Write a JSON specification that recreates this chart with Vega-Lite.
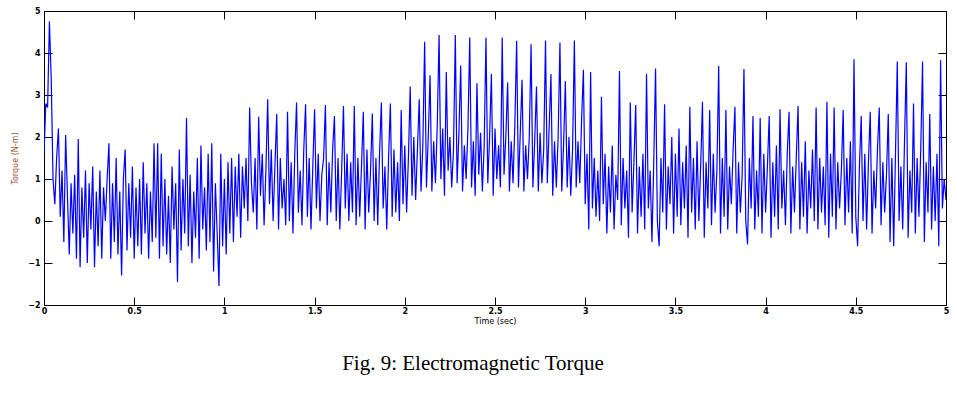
{
  "$schema": "https://vega.github.io/schema/vega-lite/v6.json",
  "width": 902,
  "height": 294,
  "autosize": {"type": "none"},
  "padding": {"left": 44, "top": 11, "right": 11, "bottom": 89},
  "background": "white",
  "config": {
    "view": {"stroke": "black", "strokeWidth": 1},
    "axis": {"grid": false, "domainColor": "black", "tickColor": "black", "labelFont": "DejaVu Sans", "labelFontSize": 8, "labelFontWeight": "bold", "labelColor": "black", "titleFont": "DejaVu Sans", "titleFontSize": 8, "titleFontWeight": "normal"}
  },
  "title": {"text": "Fig. 9: Electromagnetic Torque", "orient": "bottom", "font": "Liberation Serif", "fontSize": 21, "fontWeight": "normal", "color": "black", "offset": 28, "dx": -22, "anchor": "middle"},
  "data": {"values": [
{"t":0.00,"v":1.6},{"t":0.01,"v":2.8},{"t":0.02,"v":2.7},{"t":0.03,"v":4.75},{"t":0.04,"v":3.4},{"t":0.05,"v":1.0},{"t":0.06,"v":0.4},{"t":0.07,"v":1.5},{"t":0.08,"v":2.2},{"t":0.09,"v":0.1},
{"t":0.10,"v":1.2},{"t":0.11,"v":-0.5},{"t":0.12,"v":2.05},{"t":0.13,"v":0.6},{"t":0.14,"v":-0.8},{"t":0.15,"v":0.9},{"t":0.16,"v":-0.3},{"t":0.17,"v":1.1},{"t":0.18,"v":-0.9},{"t":0.19,"v":1.95},
{"t":0.20,"v":-1.1},{"t":0.21,"v":0.8},{"t":0.22,"v":-0.4},{"t":0.23,"v":1.2},{"t":0.24,"v":-1.0},{"t":0.25,"v":0.9},{"t":0.26,"v":-0.2},{"t":0.27,"v":1.3},{"t":0.28,"v":-1.1},{"t":0.29,"v":0.7},
{"t":0.30,"v":-0.6},{"t":0.31,"v":1.2},{"t":0.32,"v":-0.9},{"t":0.33,"v":0.8},{"t":0.34,"v":0.0},{"t":0.35,"v":1.0},{"t":0.36,"v":1.85},{"t":0.37,"v":-0.9},{"t":0.38,"v":0.9},{"t":0.39,"v":-0.5},
{"t":0.40,"v":1.5},{"t":0.41,"v":-0.8},{"t":0.42,"v":0.7},{"t":0.43,"v":-1.3},{"t":0.44,"v":1.0},{"t":0.45,"v":1.7},{"t":0.46,"v":-0.7},{"t":0.47,"v":0.9},{"t":0.48,"v":-0.4},{"t":0.49,"v":1.3},
{"t":0.50,"v":-0.9},{"t":0.51,"v":0.8},{"t":0.52,"v":-0.6},{"t":0.53,"v":1.0},{"t":0.54,"v":-0.8},{"t":0.55,"v":1.4},{"t":0.56,"v":-0.3},{"t":0.57,"v":0.9},{"t":0.58,"v":-0.9},{"t":0.59,"v":0.7},
{"t":0.60,"v":-0.5},{"t":0.61,"v":1.85},{"t":0.62,"v":-0.4},{"t":0.63,"v":1.85},{"t":0.64,"v":-0.9},{"t":0.65,"v":1.6},{"t":0.66,"v":-0.6},{"t":0.67,"v":1.0},{"t":0.68,"v":-0.8},{"t":0.69,"v":0.6},
{"t":0.70,"v":-1.0},{"t":0.71,"v":1.3},{"t":0.72,"v":-0.2},{"t":0.73,"v":0.9},{"t":0.74,"v":-1.45},{"t":0.75,"v":1.7},{"t":0.76,"v":-0.7},{"t":0.77,"v":1.0},{"t":0.78,"v":-0.3},{"t":0.79,"v":2.45},
{"t":0.80,"v":-0.6},{"t":0.81,"v":1.1},{"t":0.82,"v":-1.0},{"t":0.83,"v":0.7},{"t":0.84,"v":-0.4},{"t":0.85,"v":1.5},{"t":0.86,"v":-0.9},{"t":0.87,"v":1.8},{"t":0.88,"v":-0.2},{"t":0.89,"v":0.8},
{"t":0.90,"v":-0.7},{"t":0.91,"v":1.6},{"t":0.92,"v":-0.5},{"t":0.93,"v":1.85},{"t":0.94,"v":-1.2},{"t":0.95,"v":0.9},{"t":0.96,"v":-0.3},{"t":0.97,"v":-1.55},{"t":0.98,"v":1.6},{"t":0.99,"v":-0.6},
{"t":1.00,"v":1.0},{"t":1.01,"v":-0.8},{"t":1.02,"v":1.4},{"t":1.03,"v":-0.3},{"t":1.04,"v":1.5},{"t":1.05,"v":-0.5},{"t":1.06,"v":1.3},{"t":1.07,"v":0.1},{"t":1.08,"v":1.6},{"t":1.09,"v":-0.4},
{"t":1.10,"v":1.3},{"t":1.11,"v":0.3},{"t":1.12,"v":1.5},{"t":1.13,"v":0.0},{"t":1.14,"v":2.7},{"t":1.15,"v":0.9},{"t":1.16,"v":0.2},{"t":1.17,"v":1.5},{"t":1.18,"v":-0.2},{"t":1.19,"v":2.48},
{"t":1.20,"v":0.6},{"t":1.21,"v":1.6},{"t":1.22,"v":-0.1},{"t":1.23,"v":1.2},{"t":1.24,"v":2.9},{"t":1.25,"v":0.4},{"t":1.26,"v":1.7},{"t":1.27,"v":0.0},{"t":1.28,"v":1.3},{"t":1.29,"v":2.55},
{"t":1.30,"v":-0.2},{"t":1.31,"v":1.5},{"t":1.32,"v":0.3},{"t":1.33,"v":1.0},{"t":1.34,"v":-0.1},{"t":1.35,"v":2.6},{"t":1.36,"v":0.0},{"t":1.37,"v":1.4},{"t":1.38,"v":-0.3},{"t":1.39,"v":1.6},
{"t":1.40,"v":2.82},{"t":1.41,"v":0.2},{"t":1.42,"v":1.2},{"t":1.43,"v":-0.1},{"t":1.44,"v":1.7},{"t":1.45,"v":2.78},{"t":1.46,"v":0.1},{"t":1.47,"v":1.5},{"t":1.48,"v":-0.2},{"t":1.49,"v":1.3},
{"t":1.50,"v":2.66},{"t":1.51,"v":0.3},{"t":1.52,"v":1.6},{"t":1.53,"v":0.0},{"t":1.54,"v":1.1},{"t":1.55,"v":1.5},{"t":1.56,"v":2.76},{"t":1.57,"v":-0.1},{"t":1.58,"v":1.4},{"t":1.59,"v":0.2},
{"t":1.60,"v":1.7},{"t":1.61,"v":2.5},{"t":1.62,"v":0.0},{"t":1.63,"v":1.5},{"t":1.64,"v":-0.2},{"t":1.65,"v":1.2},{"t":1.66,"v":2.74},{"t":1.67,"v":0.3},{"t":1.68,"v":1.6},{"t":1.69,"v":0.0},
{"t":1.70,"v":1.4},{"t":1.71,"v":0.2},{"t":1.72,"v":2.74},{"t":1.73,"v":-0.1},{"t":1.74,"v":1.5},{"t":1.75,"v":0.1},{"t":1.76,"v":1.3},{"t":1.77,"v":2.6},{"t":1.78,"v":-0.2},{"t":1.79,"v":1.7},
{"t":1.80,"v":0.2},{"t":1.81,"v":1.2},{"t":1.82,"v":2.56},{"t":1.83,"v":0.0},{"t":1.84,"v":1.5},{"t":1.85,"v":-0.1},{"t":1.86,"v":1.6},{"t":1.87,"v":2.82},{"t":1.88,"v":0.3},{"t":1.89,"v":1.3},
{"t":1.90,"v":-0.2},{"t":1.91,"v":1.5},{"t":1.92,"v":2.8},{"t":1.93,"v":0.1},{"t":1.94,"v":1.7},{"t":1.95,"v":0.2},{"t":1.96,"v":1.4},{"t":1.97,"v":0.0},{"t":1.98,"v":2.64},{"t":1.99,"v":0.4},
{"t":2.00,"v":1.8},{"t":2.01,"v":0.2},{"t":2.02,"v":1.5},{"t":2.03,"v":3.2},{"t":2.04,"v":0.6},{"t":2.05,"v":2.0},{"t":2.06,"v":0.5},{"t":2.07,"v":1.7},{"t":2.08,"v":2.9},{"t":2.09,"v":0.7},
{"t":2.10,"v":1.8},{"t":2.11,"v":4.27},{"t":2.12,"v":0.8},{"t":2.13,"v":2.0},{"t":2.14,"v":3.47},{"t":2.15,"v":0.7},{"t":2.16,"v":1.9},{"t":2.17,"v":0.9},{"t":2.18,"v":2.3},{"t":2.19,"v":4.43},
{"t":2.20,"v":1.0},{"t":2.21,"v":2.2},{"t":2.22,"v":0.6},{"t":2.23,"v":3.55},{"t":2.24,"v":1.2},{"t":2.25,"v":2.0},{"t":2.26,"v":0.8},{"t":2.27,"v":1.7},{"t":2.28,"v":4.43},{"t":2.29,"v":0.9},
{"t":2.30,"v":2.1},{"t":2.31,"v":3.7},{"t":2.32,"v":0.7},{"t":2.33,"v":1.8},{"t":2.34,"v":1.0},{"t":2.35,"v":2.2},{"t":2.36,"v":4.37},{"t":2.37,"v":0.8},{"t":2.38,"v":1.9},{"t":2.39,"v":0.6},
{"t":2.40,"v":3.28},{"t":2.41,"v":1.1},{"t":2.42,"v":2.1},{"t":2.43,"v":0.7},{"t":2.44,"v":1.8},{"t":2.45,"v":4.36},{"t":2.46,"v":0.9},{"t":2.47,"v":2.0},{"t":2.48,"v":3.5},{"t":2.49,"v":0.6},
{"t":2.50,"v":2.2},{"t":2.51,"v":1.0},{"t":2.52,"v":1.8},{"t":2.53,"v":0.8},{"t":2.54,"v":4.37},{"t":2.55,"v":1.1},{"t":2.56,"v":2.0},{"t":2.57,"v":3.3},{"t":2.58,"v":0.7},{"t":2.59,"v":1.9},
{"t":2.60,"v":0.9},{"t":2.61,"v":2.3},{"t":2.62,"v":4.29},{"t":2.63,"v":0.8},{"t":2.64,"v":2.1},{"t":2.65,"v":3.36},{"t":2.66,"v":0.7},{"t":2.67,"v":1.8},{"t":2.68,"v":1.0},{"t":2.69,"v":2.0},
{"t":2.70,"v":4.21},{"t":2.71,"v":0.8},{"t":2.72,"v":1.9},{"t":2.73,"v":3.2},{"t":2.74,"v":0.7},{"t":2.75,"v":2.1},{"t":2.76,"v":0.9},{"t":2.77,"v":1.7},{"t":2.78,"v":4.3},{"t":2.79,"v":0.9},
{"t":2.80,"v":2.2},{"t":2.81,"v":3.5},{"t":2.82,"v":0.6},{"t":2.83,"v":1.9},{"t":2.84,"v":0.8},{"t":2.85,"v":2.0},{"t":2.86,"v":4.25},{"t":2.87,"v":0.7},{"t":2.88,"v":1.8},{"t":2.89,"v":3.33},
{"t":2.90,"v":0.8},{"t":2.91,"v":2.0},{"t":2.92,"v":0.6},{"t":2.93,"v":1.7},{"t":2.94,"v":4.3},{"t":2.95,"v":0.8},{"t":2.96,"v":1.9},{"t":2.97,"v":0.9},{"t":2.98,"v":2.4},{"t":2.99,"v":3.6},
{"t":3.00,"v":0.4},{"t":3.01,"v":1.6},{"t":3.02,"v":-0.2},{"t":3.03,"v":3.55},{"t":3.04,"v":0.3},{"t":3.05,"v":1.5},{"t":3.06,"v":0.1},{"t":3.07,"v":1.2},{"t":3.08,"v":0.0},{"t":3.09,"v":2.96},
{"t":3.10,"v":0.4},{"t":3.11,"v":1.6},{"t":3.12,"v":-0.3},{"t":3.13,"v":1.3},{"t":3.14,"v":0.2},{"t":3.15,"v":1.8},{"t":3.16,"v":-0.2},{"t":3.17,"v":1.1},{"t":3.18,"v":0.5},{"t":3.19,"v":3.57},
{"t":3.20,"v":-0.1},{"t":3.21,"v":1.5},{"t":3.22,"v":0.3},{"t":3.23,"v":1.2},{"t":3.24,"v":-0.4},{"t":3.25,"v":2.82},{"t":3.26,"v":0.2},{"t":3.27,"v":1.4},{"t":3.28,"v":2.76},{"t":3.29,"v":-0.3},
{"t":3.30,"v":1.3},{"t":3.31,"v":0.1},{"t":3.32,"v":1.6},{"t":3.33,"v":-0.2},{"t":3.34,"v":3.5},{"t":3.35,"v":0.3},{"t":3.36,"v":1.2},{"t":3.37,"v":-0.5},{"t":3.38,"v":1.4},{"t":3.39,"v":3.63},
{"t":3.40,"v":0.0},{"t":3.41,"v":-0.6},{"t":3.42,"v":1.5},{"t":3.43,"v":0.2},{"t":3.44,"v":2.78},{"t":3.45,"v":-0.2},{"t":3.46,"v":1.3},{"t":3.47,"v":0.4},{"t":3.48,"v":2.0},{"t":3.49,"v":-0.3},
{"t":3.50,"v":1.6},{"t":3.51,"v":0.1},{"t":3.52,"v":2.2},{"t":3.53,"v":-0.1},{"t":3.54,"v":1.4},{"t":3.55,"v":0.3},{"t":3.56,"v":1.8},{"t":3.57,"v":-0.4},{"t":3.58,"v":2.72},{"t":3.59,"v":0.2},
{"t":3.60,"v":1.5},{"t":3.61,"v":-0.2},{"t":3.62,"v":1.9},{"t":3.63,"v":0.0},{"t":3.64,"v":1.3},{"t":3.65,"v":2.84},{"t":3.66,"v":-0.4},{"t":3.67,"v":1.4},{"t":3.68,"v":0.3},{"t":3.69,"v":2.64},
{"t":3.70,"v":-0.1},{"t":3.71,"v":1.6},{"t":3.72,"v":0.2},{"t":3.73,"v":1.2},{"t":3.74,"v":3.69},{"t":3.75,"v":-0.3},{"t":3.76,"v":1.5},{"t":3.77,"v":0.1},{"t":3.78,"v":2.64},{"t":3.79,"v":-0.2},
{"t":3.80,"v":1.3},{"t":3.81,"v":0.4},{"t":3.82,"v":1.7},{"t":3.83,"v":2.72},{"t":3.84,"v":-0.3},{"t":3.85,"v":1.4},{"t":3.86,"v":0.2},{"t":3.87,"v":1.1},{"t":3.88,"v":3.62},{"t":3.89,"v":0.0},
{"t":3.90,"v":-0.56},{"t":3.91,"v":1.5},{"t":3.92,"v":0.3},{"t":3.93,"v":2.5},{"t":3.94,"v":-0.2},{"t":3.95,"v":1.2},{"t":3.96,"v":0.1},{"t":3.97,"v":2.45},{"t":3.98,"v":-0.3},{"t":3.99,"v":1.6},
{"t":4.00,"v":0.2},{"t":4.01,"v":1.3},{"t":4.02,"v":2.5},{"t":4.03,"v":-0.4},{"t":4.04,"v":1.4},{"t":4.05,"v":0.1},{"t":4.06,"v":1.8},{"t":4.07,"v":-0.2},{"t":4.08,"v":2.66},{"t":4.09,"v":0.3},
{"t":4.10,"v":1.2},{"t":4.11,"v":-0.1},{"t":4.12,"v":1.6},{"t":4.13,"v":2.6},{"t":4.14,"v":-0.3},{"t":4.15,"v":1.3},{"t":4.16,"v":0.2},{"t":4.17,"v":1.5},{"t":4.18,"v":2.74},{"t":4.19,"v":-0.2},
{"t":4.20,"v":1.4},{"t":4.21,"v":0.1},{"t":4.22,"v":1.9},{"t":4.23,"v":-0.3},{"t":4.24,"v":1.2},{"t":4.25,"v":0.3},{"t":4.26,"v":1.7},{"t":4.27,"v":0.0},{"t":4.28,"v":2.7},{"t":4.29,"v":-0.2},
{"t":4.30,"v":1.5},{"t":4.31,"v":0.2},{"t":4.32,"v":1.3},{"t":4.33,"v":-0.1},{"t":4.34,"v":2.84},{"t":4.35,"v":-0.4},{"t":4.36,"v":1.6},{"t":4.37,"v":0.1},{"t":4.38,"v":2.7},{"t":4.39,"v":-0.2},
{"t":4.40,"v":1.4},{"t":4.41,"v":0.3},{"t":4.42,"v":1.2},{"t":4.43,"v":2.64},{"t":4.44,"v":-0.1},{"t":4.45,"v":1.5},{"t":4.46,"v":0.2},{"t":4.47,"v":1.9},{"t":4.48,"v":-0.3},{"t":4.49,"v":3.85},
{"t":4.50,"v":0.1},{"t":4.51,"v":-0.6},{"t":4.52,"v":1.3},{"t":4.53,"v":2.5},{"t":4.54,"v":0.0},{"t":4.55,"v":1.6},{"t":4.56,"v":-0.2},{"t":4.57,"v":1.4},{"t":4.58,"v":2.6},{"t":4.59,"v":-0.3},
{"t":4.60,"v":1.2},{"t":4.61,"v":0.3},{"t":4.62,"v":1.7},{"t":4.63,"v":2.7},{"t":4.64,"v":-0.1},{"t":4.65,"v":1.4},{"t":4.66,"v":0.2},{"t":4.67,"v":1.1},{"t":4.68,"v":2.55},{"t":4.69,"v":-0.5},
{"t":4.70,"v":1.5},{"t":4.71,"v":-0.6},{"t":4.72,"v":1.6},{"t":4.73,"v":3.8},{"t":4.74,"v":0.0},{"t":4.75,"v":1.3},{"t":4.76,"v":-0.2},{"t":4.77,"v":1.9},{"t":4.78,"v":3.78},{"t":4.79,"v":-0.4},
{"t":4.80,"v":1.2},{"t":4.81,"v":0.2},{"t":4.82,"v":2.8},{"t":4.83,"v":-0.3},{"t":4.84,"v":1.5},{"t":4.85,"v":0.1},{"t":4.86,"v":1.7},{"t":4.87,"v":3.8},{"t":4.88,"v":-0.5},{"t":4.89,"v":1.4},
{"t":4.90,"v":0.2},{"t":4.91,"v":2.55},{"t":4.92,"v":-0.2},{"t":4.93,"v":1.3},{"t":4.94,"v":0.0},{"t":4.95,"v":1.6},{"t":4.96,"v":-0.6},{"t":4.97,"v":3.83},{"t":4.98,"v":0.3},{"t":4.99,"v":1.0},
{"t":5.00,"v":0.5}
  ]},
  "layer": [
    {
      "mark": {"type": "line", "color": "#0000ff", "strokeWidth": 1.2, "clip": true},
      "encoding": {
        "x": {"field": "t", "type": "quantitative", "scale": {"domain": [0, 5], "nice": false, "zero": false},
              "axis": {"title": "Time (sec)", "format": "~g", "values": [0, 0.5, 1, 1.5, 2, 2.5, 3, 3.5, 4, 4.5, 5], "tickSize": -8, "labelPadding": 10, "titlePadding": 2, "titleColor": "black", "labelFlush": false}},
        "y": {"field": "v", "type": "quantitative", "scale": {"domain": [-2, 5], "nice": false, "zero": false},
              "axis": {"title": "Torque (N-m)", "format": "~g", "values": [-2, -1, 0, 1, 2, 3, 4, 5], "tickSize": -8, "labelPadding": 12, "titlePadding": 8, "titleColor": "#a0522d"}}
      }
    },
    {
      "mark": {"type": "line", "opacity": 0},
      "encoding": {
        "x": {"field": "t", "type": "quantitative", "scale": {"domain": [0, 5], "nice": false, "zero": false},
              "axis": {"orient": "top", "title": null, "labels": false, "domain": false, "values": [0, 0.5, 1, 1.5, 2, 2.5, 3, 3.5, 4, 4.5, 5], "tickSize": -8}},
        "y": {"field": "v", "type": "quantitative", "scale": {"domain": [-2, 5], "nice": false, "zero": false},
              "axis": {"orient": "right", "title": null, "labels": false, "domain": false, "values": [-2, -1, 0, 1, 2, 3, 4, 5], "tickSize": -8}}
      }
    }
  ],
  "resolve": {"axis": {"x": "independent", "y": "independent"}}
}
